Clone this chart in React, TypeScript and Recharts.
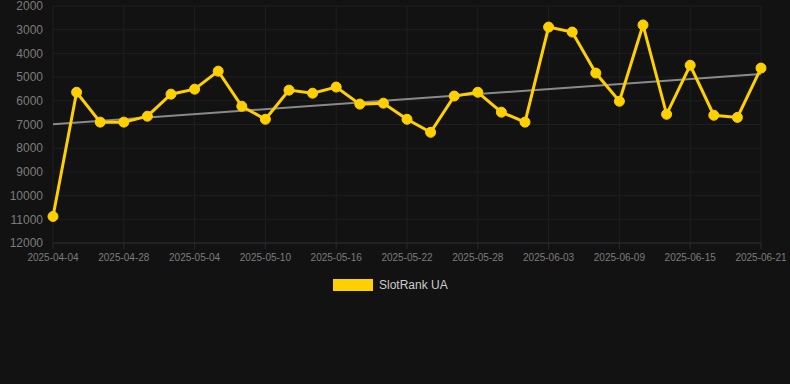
import { LineChart, Line, XAxis, YAxis, CartesianGrid, ReferenceLine } from "recharts";

const dates = [
  "2025-04-04", "2025-04-24", "2025-04-26", "2025-04-28", "2025-04-30", "2025-05-02",
  "2025-05-04", "2025-05-06", "2025-05-08", "2025-05-10", "2025-05-12", "2025-05-14",
  "2025-05-16", "2025-05-18", "2025-05-20", "2025-05-22", "2025-05-24", "2025-05-26",
  "2025-05-28", "2025-05-30", "2025-06-01", "2025-06-03", "2025-06-05", "2025-06-07",
  "2025-06-09", "2025-06-11", "2025-06-13", "2025-06-15", "2025-06-17", "2025-06-19",
  "2025-06-21",
];

const ranks = [
  10880, 5640, 6900, 6900, 6650, 5720, 5510, 4750, 6230, 6780, 5550, 5680, 5420, 6140,
  6100, 6780, 7330, 5800, 5640, 6480, 6900, 2890, 3100, 4830, 6020, 2800, 6570, 4500,
  6610, 6700, 4620,
];

const xTickLabels = [
  "2025-04-04", "2025-04-28", "2025-05-04", "2025-05-10", "2025-05-16", "2025-05-22",
  "2025-05-28", "2025-06-03", "2025-06-09", "2025-06-15", "2025-06-21",
];

const yTicks = [2000, 3000, 4000, 5000, 6000, 7000, 8000, 9000, 10000, 11000, 12000];

// trend line endpoints (rank at first and last date)
const trendStart = 6990;
const trendEnd = 4870;

const seriesName = "SlotRank UA";

const chartData = dates.map((d, i) => ({ date: d, rank: ranks[i] }));

export default function App() {
  return (
    <div
      style={{
        position: "fixed",
        left: 0,
        top: 0,
        width: 790,
        height: 384,
        background: "#121212",
        fontFamily: "'Liberation Sans', Arial, sans-serif",
      }}
    >
      <LineChart
        width={790}
        height={271}
        data={chartData}
        margin={{ top: 6, right: 29, left: 0, bottom: 0 }}
      >
        <CartesianGrid stroke="#1f1f1f" strokeWidth={1} />
        <XAxis
          dataKey="date"
          ticks={xTickLabels}
          interval={0}
          height={28}
          axisLine={{ stroke: "#2b2b2b" }}
          tickLine={{ stroke: "#2b2b2b" }}
          tickSize={6}
          tickMargin={5}
          tick={{ fill: "#7c7c7c", fontSize: 10 }}
        />
        <YAxis
          type="number"
          reversed
          domain={[2000, 12000]}
          ticks={yTicks}
          interval={0}
          width={53}
          axisLine={false}
          tickLine={false}
          tickMargin={4}
          tick={{ fill: "#7c7c7c", fontSize: 12 }}
        />
        <ReferenceLine
          segment={[
            { x: dates[0], y: trendStart },
            { x: dates[dates.length - 1], y: trendEnd },
          ]}
          stroke="#8a8a8a"
          strokeWidth={2}
          ifOverflow="visible"
        />
        <Line
          type="linear"
          dataKey="rank"
          name={seriesName}
          stroke="#ffd000"
          strokeWidth={3}
          dot={{ r: 5, fill: "#ffd000", stroke: "#ffd000", strokeWidth: 1 }}
          activeDot={false}
          isAnimationActive={false}
        />
      </LineChart>
      <div
        style={{
          position: "absolute",
          left: 333,
          top: 278,
          display: "flex",
          alignItems: "center",
          gap: 6,
          fontSize: 12,
          color: "#cccccc",
        }}
      >
        <span style={{ display: "inline-block", width: 40, height: 12, background: "#ffd000" }} />
        <span>{seriesName}</span>
      </div>
    </div>
  );
}
